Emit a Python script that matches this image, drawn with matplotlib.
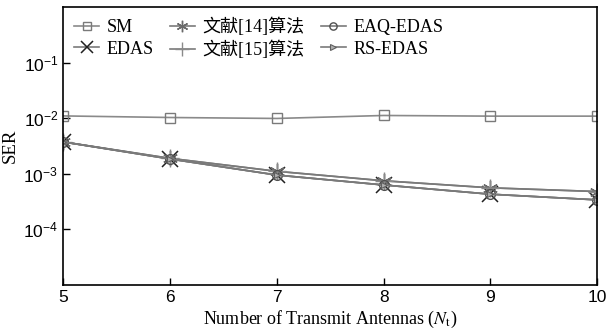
import numpy as np
import matplotlib
matplotlib.use("Agg")
import matplotlib.pyplot as plt

plt.rcParams['mathtext.fontset'] = 'stix'

# SER versus number of transmit antennas
nt = [5, 6, 7, 8, 9, 10]
ser_sm = [1.10e-2, 1.03e-2, 0.99e-2, 1.12e-2, 1.09e-2, 1.09e-2]
ser_edas = [3.75e-3, 1.85e-3, 0.95e-3, 0.63e-3, 0.43e-3, 0.34e-3]
ser_ref14 = [3.75e-3, 1.90e-3, 1.11e-3, 0.75e-3, 0.56e-3, 0.48e-3]
ser_ref15 = [3.75e-3, 1.90e-3, 1.11e-3, 0.75e-3, 0.56e-3, 0.48e-3]
ser_eaq = [3.75e-3, 1.85e-3, 0.95e-3, 0.63e-3, 0.43e-3, 0.34e-3]
ser_rs = [3.75e-3, 1.85e-3, 0.95e-3, 0.63e-3, 0.43e-3, 0.34e-3]

labels = ['SM', 'EDAS', '文献[14]算法', '文献[15]算法', 'EAQ-EDAS', 'RS-EDAS']

fig = plt.figure(figsize=(6.07, 3.33), dpi=100)
ax = fig.add_axes([0.104, 0.144, 0.880, 0.835])

line_c = '#7a7a7a'
ax.semilogy(nt, ser_sm, color='#8a8a8a', lw=1.2, marker='s', ms=7,
            mfc='none', mec='#7a7a7a', mew=1.0, label=labels[0])
ax.semilogy(nt, ser_edas, color=line_c, lw=1.2, marker='x', ms=11,
            mec='#202020', mew=1.1, label=labels[1])
ax.semilogy(nt, ser_ref14, color=line_c, lw=1.2, marker=(6, 2, 0), ms=11,
            mec='#6a6a6a', mew=1.0, label=labels[2])
ax.semilogy(nt, ser_ref15, color=line_c, lw=1.2, marker='+', ms=13,
            mec='#8a8a8a', mew=1.0, label=labels[3])
ax.semilogy(nt, ser_eaq, color=line_c, lw=1.2, marker='o', ms=7,
            mfc='none', mec='#505050', mew=1.0, label=labels[4])
ax.semilogy(nt, ser_rs, color=line_c, lw=1.2, marker='>', ms=5,
            mfc='#b0b0b0', mec='#606060', mew=0.8, label=labels[5])

ax.set_xlim(5, 10)
ax.set_ylim(1e-5, 1)
ax.set_xticks(nt)
ax.set_yticks([1e-4, 1e-3, 1e-2, 1e-1])
ax.yaxis.set_minor_locator(matplotlib.ticker.NullLocator())
ax.tick_params(direction='in', length=5, labelsize=12.5, width=1)
for lab in ax.get_xticklabels() + ax.get_yticklabels():
    lab.set_family('Liberation Sans')
for s in ax.spines.values():
    s.set_linewidth(1.2)

ax.set_xlabel('Number of Transmit Antennas ($N_\\mathrm{t}$)',
              family='Liberation Serif', fontsize=13, labelpad=3)
ax.set_ylabel('SER', family='Liberation Serif', fontsize=13.5, labelpad=3)

ax.legend(ncol=3, loc='upper left', frameon=False,
          prop={'family': ['Liberation Serif', 'Noto Sans CJK SC'], 'size': 13},
          handlelength=1.4, columnspacing=0.9, handletextpad=0.4,
          labelspacing=0.25, borderaxespad=0.3, borderpad=0.3,
          markerscale=0.75)

fig.savefig('out.png', dpi=100)
